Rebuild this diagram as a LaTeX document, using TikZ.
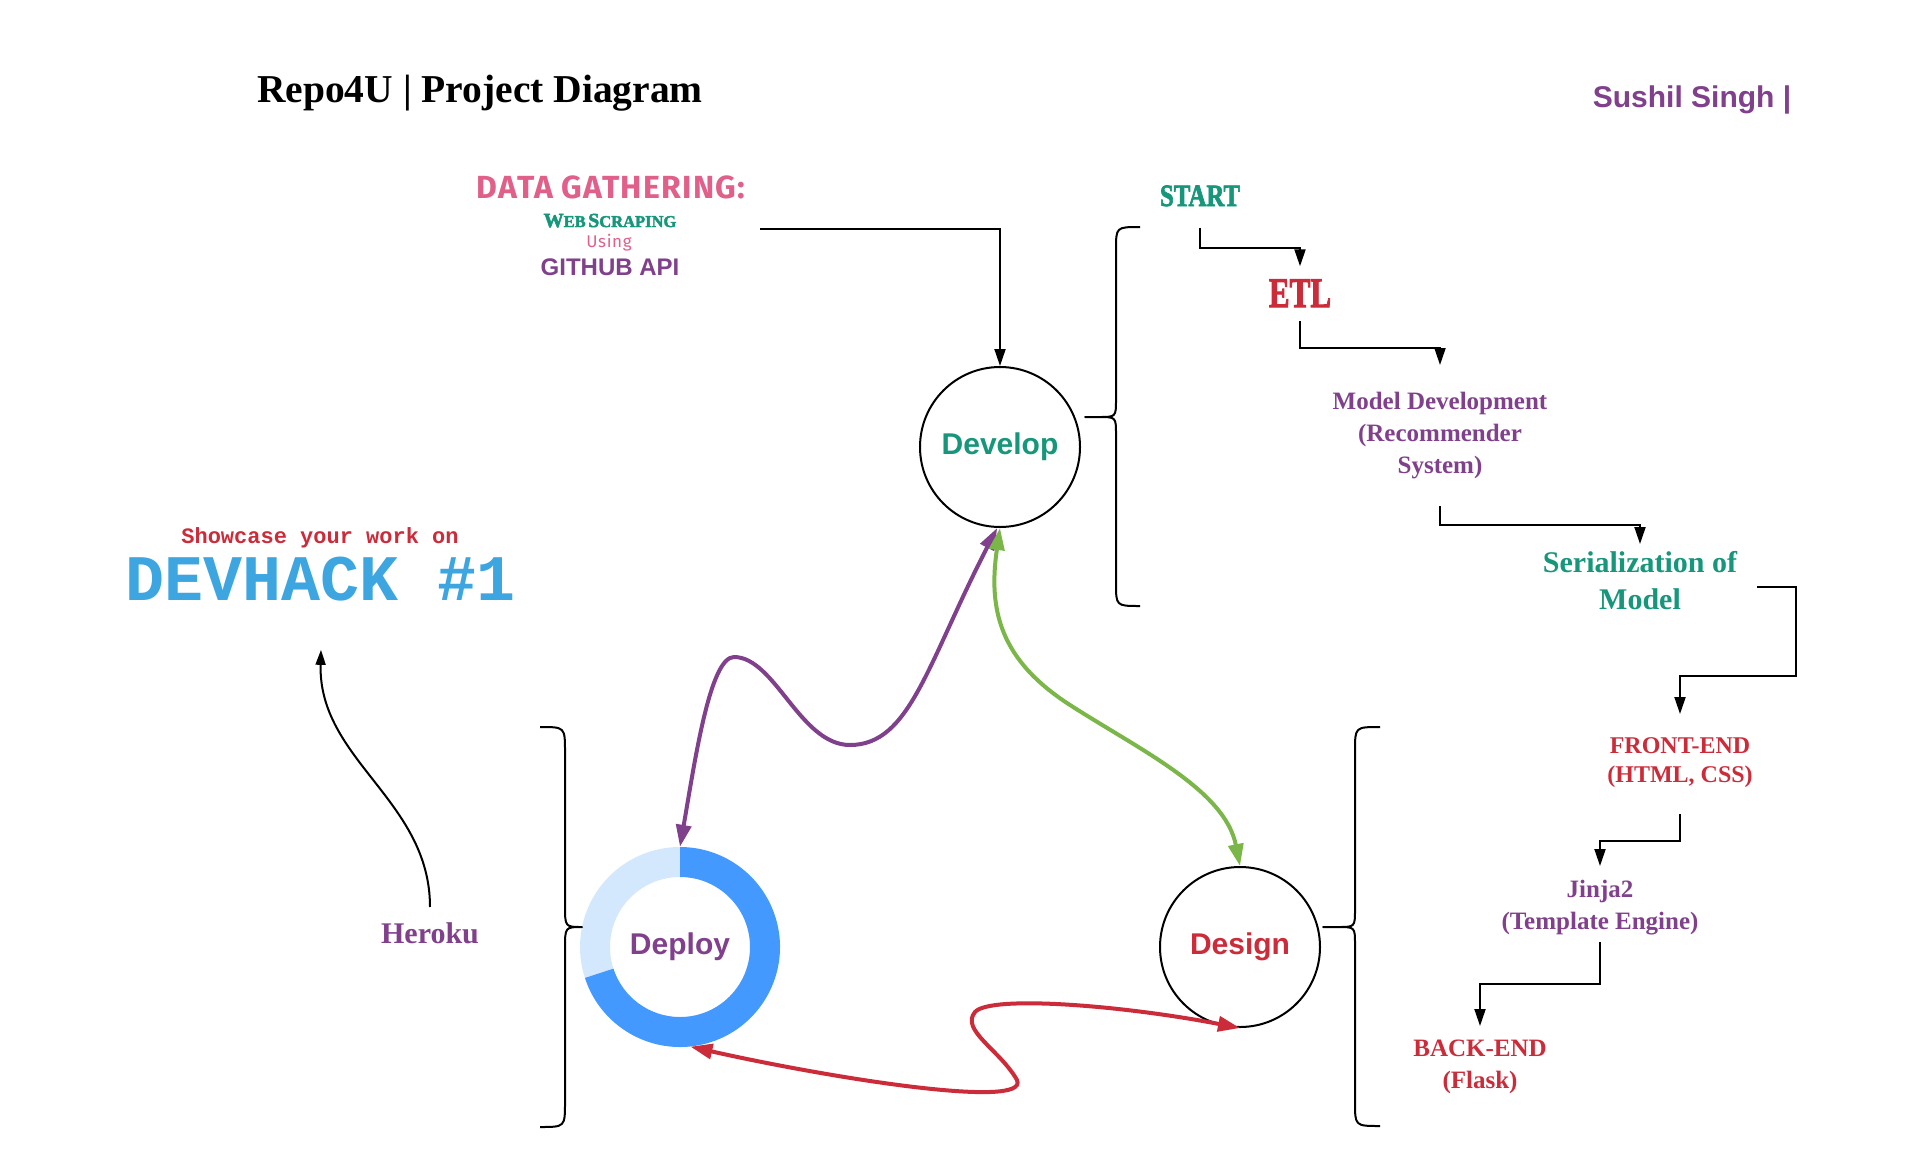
\documentclass[tikz,border=0pt]{standalone}
\usepackage{fontspec}
\setmainfont{Liberation Serif}
\setsansfont{Liberation Sans}
\setmonofont{Liberation Mono}
\newfontfamily\handfont{Fira Sans}[LetterSpace=4]
\newfontfamily\heavyfont{Liberation Serif}[BoldFeatures={FakeBold=2.5}]
\usetikzlibrary{arrows.meta,positioning}
\definecolor{repoPurple}{HTML}{80408C}
\definecolor{repoTeal}{HTML}{16967A}
\definecolor{repoRed}{HTML}{CC2C3A}
\definecolor{repoPink}{HTML}{E0608A}
\definecolor{repoBlue}{HTML}{3DA6E0}
\definecolor{arrGreen}{HTML}{7AB648}
\definecolor{ringDark}{HTML}{4499FF}
\definecolor{ringLight}{HTML}{D4E8FD}
\newcommand{\fsz}[2]{\fontsize{#1}{#2}\selectfont}
\newcommand{\bigsc}[1]{{\fsz{20}{24}#1}}
\newcommand{\smallsc}[1]{{\fsz{16.5}{24}#1}}

\begin{document}
\begin{tikzpicture}[x=1pt, y=-1pt,
  circ/.style={circle,draw,line width=2pt,minimum size=160pt,inner sep=0pt,
    font=\sffamily\bfseries\fsz{30}{36}},
  txt/.style={inner sep=0pt,align=center},
  flow/.style={-{Triangle[length=17pt,width=11pt]},line width=2pt},
  duo/.style={{Triangle[length=22pt,width=15pt]}-{Triangle[length=22pt,width=15pt]},line width=4pt},
  brace/.style={line width=2pt,line join=round}]
  \useasboundingbox (0,0) rectangle (1919,1167);
  \fill[white] (0,0) rectangle (1919,1167);

  \node[txt,anchor=base,font=\bfseries\fsz{39.5}{45}] (title) at (480,102) {Repo4U | Project Diagram};
  \node[txt,anchor=base,text=repoPurple,font=\sffamily\bfseries\fsz{30}{36}] (author) at (1692,107) {Sushil Singh |};

  \node[txt,anchor=base,text=repoPink,font=\handfont\bfseries\fsz{32}{36}] (datatitle) at (611,198) {DATA GATHERING:};
  \node[txt,anchor=base,text=repoTeal,font=\heavyfont\bfseries] (webscrape) at (610,227) {\bigsc{W}\smallsc{EB} \bigsc{S}\smallsc{CRAPING}};
  \node[txt,anchor=base,text=repoPink,font=\handfont\fsz{17}{20}] (usingapi) at (609,247) {Using};
  \node[txt,anchor=base,text=repoPurple,font=\sffamily\bfseries\fsz{24}{28}] (githubapi) at (610,275) {GITHUB API};
  \coordinate (gatherout) at (760,229);

  \node[txt,anchor=base,text=repoRed,font=\ttfamily\bfseries\fsz{22}{26}] (showcase) at (320,543) {Showcase your work on};
  \node[txt,anchor=base,text=repoBlue,font=\ttfamily\bfseries\fsz{65}{70}] (devhack) at (321,600) {DEVHACK \#1};
  \node[txt,anchor=base,text=repoPurple,font=\bfseries\fsz{30}{36}] (heroku) at (430,943) {Heroku};

  \node[circ,text=repoTeal] (develop) at (1000,447) {Develop};
  \node[circ,text=repoRed] (design) at (1240,947) {Design};
  \node[circle,minimum size=200pt,inner sep=0pt,text=repoPurple,
    font=\sffamily\bfseries\fsz{30}{36}] (deploy) at (680,947) {Deploy};
  \begin{scope}[shift={(deploy.center)}, y=1pt]
    \fill[ringLight] (90:100) arc[start angle=90,end angle=198,radius=100]
      -- (198:70) arc[start angle=198,end angle=90,radius=70] -- cycle;
    \fill[ringDark] (198:100) arc[start angle=198,end angle=450,radius=100]
      -- (450:70) arc[start angle=450,end angle=198,radius=70] -- cycle;
  \end{scope}

  \node[txt,anchor=base,text=repoTeal,font=\heavyfont\bfseries\fsz{31}{36}] (start) at (1200,206) {\scalebox{0.8}[1]{START}};
  \node[txt,anchor=base,text=repoRed,font=\heavyfont\bfseries\fsz{42}{48}] (etl) at (1300,307) {\scalebox{0.74}[1]{ETL}};
  \node[txt,anchor=north,text=repoPurple,font=\bfseries\fsz{25}{32}] (model) at (1440,392) {Model Development\\(Recommender\\System)};
  \node[txt,anchor=north,text=repoTeal,font=\bfseries\fsz{30}{37}] (serial) at (1640,551) {Serialization of\\Model};
  \node[txt,anchor=north,text=repoRed,font=\bfseries\fsz{24}{29}] (front) at (1680,737) {FRONT-END\\(HTML, CSS)};
  \node[txt,anchor=north,text=repoPurple,font=\bfseries\fsz{25}{32}] (jinja) at (1600,880) {Jinja2\\(Template Engine)};
  \node[txt,anchor=north,text=repoRed,font=\bfseries\fsz{25}{32}] (backend) at (1480,1040) {BACK-END\\(Flask)};

  \draw[flow] (gatherout) -| (develop.north);
  \draw[flow] ([yshift=-21pt]start.south) -- ++(0,20) -| ([yshift=13pt]etl.north);
  \draw[flow] ([yshift=-14pt]etl.south) -- ++(0,27) -| ([yshift=27pt]model.north);
  \draw[flow] ([yshift=-27pt]model.south) -- ++(0,19) -| ([yshift=7pt]serial.north);
  \draw[flow] ([xshift=20pt,yshift=-7pt]serial.east) -- ++(39,0) -- ++(0,89) -| ([yshift=23pt]front.north);
  \draw[flow] ([yshift=-27pt]front.south) -- ++(0,27) -| ([yshift=14pt]jinja.north);
  \draw[flow] ([yshift=-7pt]jinja.south) -- ++(0,42) -| ([yshift=14pt]backend.north);
  \draw[-{Triangle[length=15pt,width=10pt]},line width=2pt] ([yshift=15pt]heroku.north)
    .. controls (430,800) and (318,760) .. ([yshift=-49pt]devhack.south);

  \draw[duo,repoPurple] (develop.-92) .. controls (927,664) and (910,745) .. (850,745)
    .. controls (800,745) and (775,657) .. (734,657)
    .. controls (710,657) and (695,760) .. (deploy.north);
  \draw[duo,arrGreen] (develop.south) .. controls (988,610) and (1000,660) .. (1070,705)
    .. controls (1140,750) and (1225,790) .. (design.north);
  \draw[duo,repoRed] (deploy.-84) .. controls (830,1078) and (1030,1110) .. (1017,1080)
    .. controls (1000,1050) and (960,1030) .. (975,1012)
    .. controls (990,995) and (1120,1005) .. (design.south);

  \draw[brace] (1140,227) .. controls (1116,227) .. (1116,250) -- (1116,399)
    .. controls (1116,417) .. (1099,417) -- (1085,417) -- (1099,417)
    .. controls (1116,417) .. (1116,435) -- (1116,583) .. controls (1116,606) .. (1140,606);
  \draw[brace] (1380,727) .. controls (1355,727) .. (1355,751) -- (1355,909)
    .. controls (1355,927) .. (1338,927) -- (1323,927) -- (1338,927)
    .. controls (1355,927) .. (1355,945) -- (1355,1102) .. controls (1355,1126) .. (1380,1126);
  \draw[brace] (540,727) .. controls (565,727) .. (565,752) -- (565,905)
    .. controls (565,927) .. (582,927) .. controls (565,927) .. (565,949)
    -- (565,1102) .. controls (565,1127) .. (540,1127);
\end{tikzpicture}
\end{document}
